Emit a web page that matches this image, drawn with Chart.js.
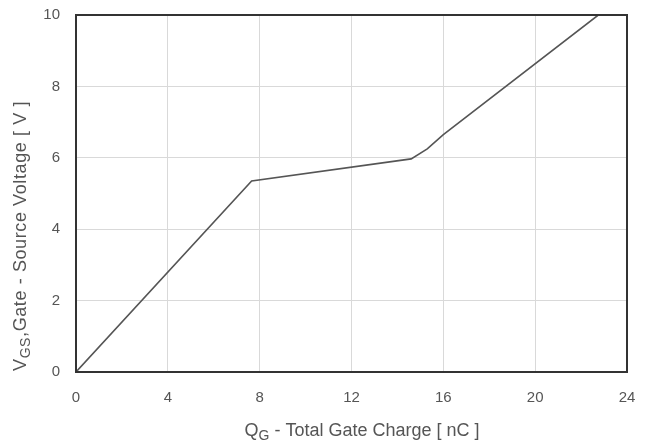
<!DOCTYPE html>
<html>
<head>
<meta charset="utf-8">
<script src="https://cdn.jsdelivr.net/npm/chart.js@4/dist/chart.umd.min.js"></script>
<style>
  html, body { margin: 0; padding: 0; background: #fff; }
  #wrap { width: 649px; height: 443px; position: relative; }
</style>
</head>
<body>
<div id="wrap"><canvas id="chart"></canvas></div>
<script>
/* ── Data ── */
const chargeNc    = [0, 7.65, 14.6, 15.3, 16, 22.75];
const gateVoltage = [0, 5.35, 5.97, 6.25, 6.65, 10];
const xTicks = [0, 4, 8, 12, 16, 20, 24];
const yTicks = [0, 2, 4, 6, 8, 10];

const points = chargeNc.map((q, i) => ({ x: q, y: gateVoltage[i] }));

/* ── Frame + axis titles with subscripts ── */
const framePlugin = {
  id: "frame",
  afterDraw(chart) {
    const { ctx, chartArea: a } = chart;
    ctx.save();
    ctx.strokeStyle = "#333";
    ctx.lineWidth = 2;
    ctx.strokeRect(a.left, a.top, a.right - a.left, a.bottom - a.top);

    ctx.fillStyle = "#555";
    ctx.textBaseline = "alphabetic";
    const big = "18px 'Liberation Sans', Arial, sans-serif";
    const small = "14px 'Liberation Sans', Arial, sans-serif";

    // x title
    const xParts = [["Q", big, 0], ["G", small, 4], [" - Total Gate Charge [ nC ]", big, 0]];
    drawParts(ctx, xParts, 362, 436);

    // y title (rotated)
    const yParts = [["V", big, 0], ["GS", small, 4], [",Gate - Source Voltage [ V ]", big, 0]];
    ctx.translate(26, 236);
    ctx.rotate(-Math.PI / 2);
    ctx.letterSpacing = "0.6px";
    drawParts(ctx, yParts, 0, 0);
    ctx.restore();
  }
};

function drawParts(ctx, parts, cx, y) {
  let total = 0;
  parts.forEach(p => { ctx.font = p[1]; total += ctx.measureText(p[0]).width; });
  let x = cx - total / 2;
  ctx.textAlign = "left";
  parts.forEach(p => {
    ctx.font = p[1];
    ctx.fillText(p[0], x, y + p[2]);
    x += ctx.measureText(p[0]).width;
  });
}

const tickFont = { family: "'Liberation Sans', Arial, sans-serif", size: 15 };

new Chart(document.getElementById("chart"), {
  type: "scatter",
  data: {
    datasets: [{
      data: points,
      showLine: true,
      borderColor: "#555",
      borderWidth: 1.6,
      pointRadius: 0,
      tension: 0
    }]
  },
  options: {
    responsive: true,
    maintainAspectRatio: false,
    animation: false,
    layout: { padding: { left: 0, right: 22, top: 15, bottom: 0 } },
    plugins: { legend: { display: false }, tooltip: { enabled: false } },
    scales: {
      x: {
        type: "linear",
        min: 0, max: 24,
        afterBuildTicks: s => { s.ticks = xTicks.map(v => ({ value: v })); },
        afterFit: s => { s.height = 71; s.paddingLeft = 0; s.paddingRight = 0; },
        grid: { color: "#d9d9d9", lineWidth: 1, drawTicks: false },
        border: { display: false },
        ticks: { color: "#555", font: tickFont, padding: 17 }
      },
      y: {
        type: "linear",
        min: 0, max: 10,
        afterBuildTicks: s => { s.ticks = yTicks.map(v => ({ value: v })); },
        afterFit: s => { s.width = 76; s.paddingTop = 0; s.paddingBottom = 0; },
        grid: { color: "#d9d9d9", lineWidth: 1, drawTicks: false },
        border: { display: false },
        ticks: { color: "#555", font: tickFont, padding: 16 }
      }
    }
  },
  plugins: [framePlugin]
});
</script>
</body>
</html>
